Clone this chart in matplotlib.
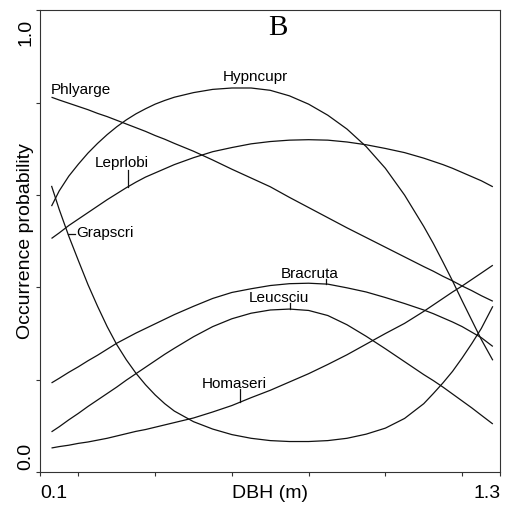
import matplotlib
matplotlib.use("Agg")
import matplotlib.pyplot as plt
import numpy as np
from matplotlib.transforms import offset_copy

plt.rcParams["font.family"] = ["Liberation Sans", "DejaVu Sans"]

# DBH (m) grid of the fitted response curves (denser where they bend most)
dbh = [0.13, 0.15, 0.175, 0.20, 0.225, 0.25, 0.275, 0.30, 0.325, 0.35, 0.375,
       0.40, 0.425, 0.45, 0.50, 0.55, 0.60, 0.65, 0.70, 0.75, 0.80, 0.85,
       0.90, 0.95, 1.00, 1.05, 1.10, 1.125, 1.15, 1.175, 1.20, 1.225, 1.25,
       1.28]

# occurrence probability of each species along the DBH gradient
phlyarge = [0.812, 0.806, 0.799, 0.792, 0.785, 0.777, 0.770, 0.762, 0.754,
            0.746, 0.738, 0.729, 0.721, 0.712, 0.695, 0.676, 0.656, 0.637,
            0.618, 0.595, 0.573, 0.551, 0.529, 0.508, 0.487, 0.466, 0.445,
            0.435, 0.424, 0.414, 0.403, 0.393, 0.382, 0.370]
hypncupr = [0.576, 0.609, 0.641, 0.667, 0.691, 0.712, 0.731, 0.748, 0.763,
            0.776, 0.787, 0.797, 0.805, 0.812, 0.822, 0.829, 0.832, 0.832,
            0.827, 0.815, 0.797, 0.773, 0.743, 0.705, 0.658, 0.600, 0.532,
            0.495, 0.455, 0.414, 0.371, 0.329, 0.287, 0.242]
leprlobi = [0.506, 0.518, 0.534, 0.548, 0.562, 0.576, 0.590, 0.603, 0.616,
            0.628, 0.639, 0.648, 0.657, 0.666, 0.681, 0.694, 0.703, 0.711,
            0.716, 0.719, 0.720, 0.719, 0.715, 0.709, 0.701, 0.692, 0.680,
            0.673, 0.666, 0.658, 0.649, 0.640, 0.631, 0.618]
grapscri = [0.620, 0.569, 0.511, 0.458, 0.406, 0.359, 0.315, 0.276, 0.243,
            0.214, 0.189, 0.167, 0.148, 0.132, 0.109, 0.093, 0.081, 0.073,
            0.068, 0.066, 0.066, 0.068, 0.073, 0.082, 0.095, 0.116, 0.148,
            0.170, 0.193, 0.218, 0.247, 0.278, 0.311, 0.359]
bracruta = [0.193, 0.203, 0.216, 0.228, 0.241, 0.253, 0.266, 0.279, 0.290,
            0.301, 0.311, 0.321, 0.331, 0.341, 0.359, 0.376, 0.389, 0.397,
            0.404, 0.408, 0.409, 0.407, 0.399, 0.390, 0.378, 0.365, 0.351,
            0.343, 0.334, 0.325, 0.315, 0.303, 0.291, 0.272]
leucsciu = [0.087, 0.098, 0.113, 0.127, 0.142, 0.156, 0.170, 0.184, 0.199,
            0.213, 0.227, 0.241, 0.255, 0.268, 0.293, 0.315, 0.332, 0.344,
            0.351, 0.353, 0.350, 0.339, 0.319, 0.294, 0.267, 0.239, 0.211,
            0.198, 0.184, 0.169, 0.154, 0.139, 0.123, 0.104]
homaseri = [0.052, 0.055, 0.058, 0.062, 0.065, 0.069, 0.073, 0.078, 0.083,
            0.088, 0.092, 0.097, 0.102, 0.107, 0.117, 0.130, 0.144, 0.161,
            0.177, 0.195, 0.213, 0.233, 0.254, 0.277, 0.300, 0.322, 0.348,
            0.362, 0.376, 0.390, 0.403, 0.417, 0.431, 0.448]

species = {
    "Phlyarge": phlyarge,
    "Hypncupr": hypncupr,
    "Leprlobi": leprlobi,
    "Grapscri": grapscri,
    "Bracruta": bracruta,
    "Leucsciu": leucsciu,
    "Homaseri": homaseri,
}

x_ticks = [0.1, 0.2, 0.4, 0.6, 0.8, 1.0, 1.2, 1.3]
y_ticks = [0.0, 0.2, 0.4, 0.6, 0.8, 1.0]

# label placement: text anchor, alignment, and the short pointer to the curve
label_pos = {
    "Phlyarge": dict(xy=(0.129, 0.820), ha="left", tick=None),
    "Hypncupr": dict(xy=(0.660, 0.848), ha="center", tick=None),
    "Leprlobi": dict(xy=(0.312, 0.661), ha="center", tick=("v", 0.330, 0.655)),
    "Grapscri": dict(xy=(0.194, 0.509), ha="left",
                     tick=("h", 0.1735, 0.1913, 0.515)),
    "Bracruta": dict(xy=(0.803, 0.420), ha="center", tick=("v", 0.846, 0.418)),
    "Leucsciu": dict(xy=(0.722, 0.368), ha="center", tick=("v", 0.752, 0.366)),
    "Homaseri": dict(xy=(0.606, 0.182), ha="center", tick=("v", 0.622, 0.180)),
}

LINE = "#111111"
LW = 0.9

fig = plt.figure(figsize=(5.09, 5.08), dpi=100)
ax = fig.add_axes([0.0786, 0.0709, 0.9047, 0.9085])

for name, vals in species.items():
    ax.plot(dbh, vals, color=LINE, linewidth=LW, solid_capstyle="butt",
            solid_joinstyle="round")
    spec = label_pos[name]
    ax.text(*spec["xy"], name, ha=spec["ha"], va="baseline", fontsize=11)
    tick = spec["tick"]
    if tick is None:
        continue
    if tick[0] == "v":
        _, tx, ty = tick
        ax.plot([tx, tx], [ty, np.interp(tx, dbh, vals)], color=LINE,
                linewidth=LW)
    else:
        _, x0, x1, ty = tick
        ax.plot([x0, x1], [ty, ty], color=LINE, linewidth=LW)

ax.set_xlim(0.1, 1.3)
ax.set_ylim(0.0, 1.0)
ax.set_xticks(x_ticks)
ax.set_yticks(y_ticks)
ax.set_xticklabels([])
ax.set_yticklabels([])
ax.tick_params(direction="out", length=3.0, width=0.8, color="#333333")
for sp in ax.spines.values():
    sp.set_color("#333333")
    sp.set_linewidth(0.8)

# end labels of the axes, set just inside the axis range
xtr = offset_copy(ax.get_xaxis_transform(), fig=fig, y=-18.4, units="points")
ax.text(0.1, 0, "0.1", transform=xtr, ha="left", va="baseline", fontsize=14)
ax.text(1.3, 0, "1.3", transform=xtr, ha="right", va="baseline", fontsize=14)
ax.text(0.7, 0, "DBH (m)", transform=xtr, ha="center", va="baseline",
        fontsize=14)

ytr = offset_copy(ax.get_yaxis_transform(), fig=fig, x=-7.2, units="points")
ax.text(0, 0.0, "0.0", transform=offset_copy(ytr, fig=fig, y=1.4,
                                             units="points"),
        rotation=90, rotation_mode="anchor", ha="left", va="baseline",
        fontsize=14)
ax.text(0, 1.0, "1.0", transform=offset_copy(ytr, fig=fig, y=-5.8,
                                             units="points"),
        rotation=90, rotation_mode="anchor", ha="right", va="baseline",
        fontsize=14)
ax.text(0, 0.5, "Occurrence probability", transform=ytr, rotation=90,
        rotation_mode="anchor", ha="center", va="baseline", fontsize=14)

ax.text(0.517, 0.947, "B", transform=ax.transAxes, ha="center",
        va="baseline", fontsize=21, family=["Liberation Serif", "DejaVu Serif"])

fig.savefig("out.png", dpi=100, facecolor="white")
